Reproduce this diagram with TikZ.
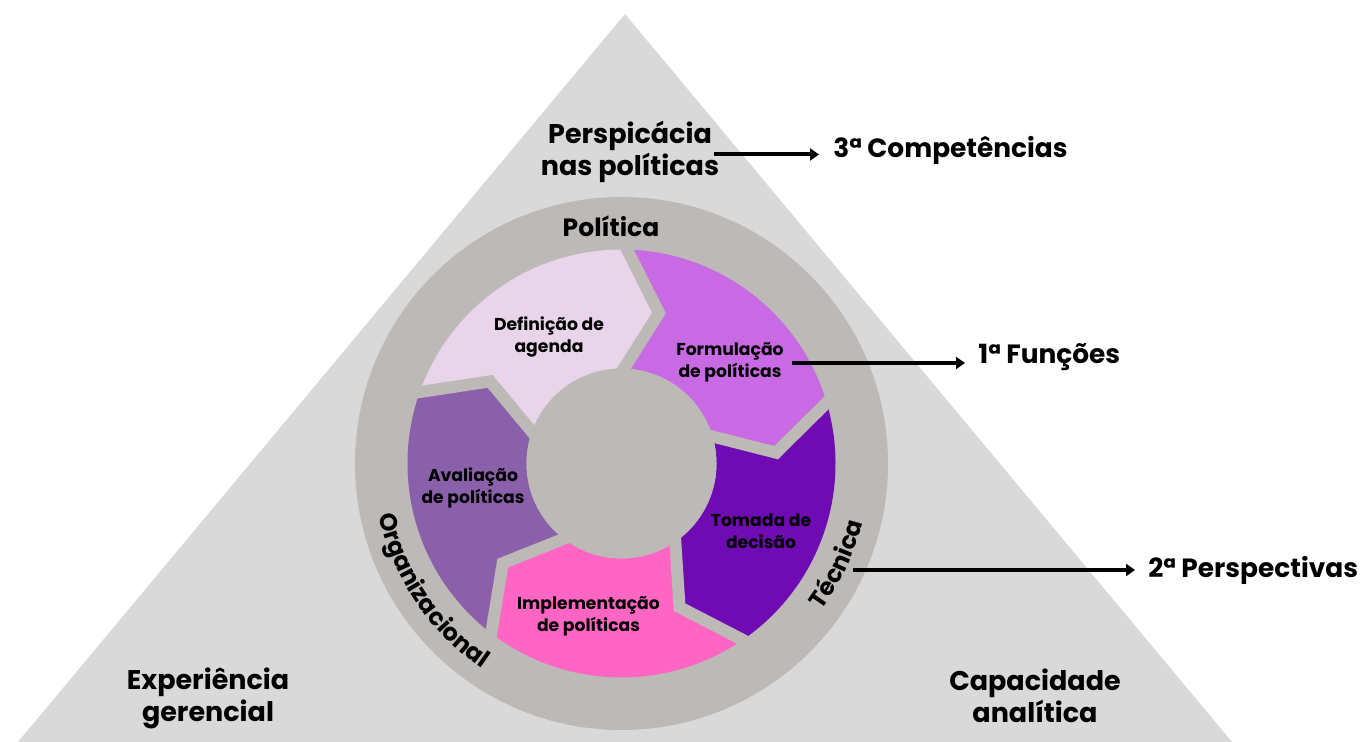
\documentclass[tikz,border=0pt]{standalone}
\usepackage{fontspec}
\setmainfont{Poppins}
\usetikzlibrary{arrows.meta,calc,decorations.text}
\definecolor{tri}{HTML}{D9D9D9}
\definecolor{ring}{HTML}{BCB9B6}
\definecolor{cdef}{HTML}{E8D5EA}
\definecolor{cform}{HTML}{C86AE3}
\definecolor{ctom}{HTML}{6F0BB3}
\definecolor{cimpl}{HTML}{FF66C4}
\definecolor{caval}{HTML}{8B60AA}
\newcommand{\chevseg}[3]{\fill[#3] (#1:214) arc[start angle=#1,end angle=#2,radius=214] -- (#2-12.5:155) -- (#2:95) arc[start angle=#2,end angle=#1,radius=95] -- (#1-12.5:155) -- cycle;}
\newcommand{\gapline}[1]{\draw[gapline] ($(#1:214)!-0.3!(#1-12.5:155)$) -- (#1-12.5:155) -- ($(#1:95)!-0.3!(#1-12.5:155)$);}
\tikzset{
  lbl/.style={font=\bfseries\fontsize{8.6}{11}\selectfont, align=center, inner sep=0pt, text=black},
  biglbl/.style={font=\bfseries\fontsize{13.5}{16}\selectfont, align=center, inner sep=0pt, text=black},
  sidelbl/.style={font=\bfseries\fontsize{13.2}{15}\selectfont, inner sep=0pt, anchor=base west, text=black},
  arr/.style={line width=2pt, draw=black, -{Triangle[length=4.5pt,width=6pt]}},
  gapline/.style={line width=6pt, draw=ring, line join=miter, line cap=butt},
}
\begin{document}
\begin{tikzpicture}[x=0.5pt,y=0.5pt]
\useasboundingbox (0,0) rectangle (1361,742);
\fill[white] (0,0) rectangle (1361,742);
% triangle
\fill[tri] (625,728) -- (18,0) -- (1232,0) -- cycle;
% ring
\fill[ring] (621.5,278.5) circle[radius=266.5];
\begin{scope}[shift={(621.5,278.5)}]
  \chevseg{160.5}{88.5}{cdef}
  \chevseg{88.5}{16.5}{cform}
  \chevseg{16.5}{-55.5}{ctom}
  \chevseg{-55.5}{-127.5}{cimpl}
  \chevseg{-127.5}{-199.5}{caval}
  \gapline{88.5}
  \gapline{16.5}
  \gapline{-55.5}
  \gapline{-127.5}
  \gapline{160.5}
  \fill[ring] (0,0) circle[radius=95];
  \path[decorate, decoration={text along path, text align=center,
      text={|\bfseries\fontsize{12}{12}\selectfont|Organizacional}}]
      (184:248) arc[start angle=184, end angle=244, radius=248];
  \path[decorate, decoration={text along path, text align=center,
      text={|\bfseries\fontsize{12}{12}\selectfont|Técnica}}]
      (-45:248) arc[start angle=-45, end angle=-5, radius=248];
\end{scope}
% labels
\node[lbl] (def) at (549,405) {Definição de\\agenda};
\node[lbl] (form) at (730,380) {Formulação\\de políticas};
\node[lbl] (aval) at (473,254.5) {Avaliação\\de políticas};
\node[lbl] (tom) at (761,210.5) {Tomada de\\decisão};
\node[lbl] (impl) at (588.5,126) {Implementação\\de políticas};
\node[font=\bfseries\fontsize{12.5}{15}\selectfont, inner sep=0pt, anchor=base] (pol) at (611,505.3) {Política};
\node[biglbl, font=\bfseries\fontsize{13.5}{14.3}\selectfont] (persp) at (630,590) {Perspicácia\\nas políticas};
\node[biglbl] (exp) at (208,44) {Experiência\\gerencial};
\node[biglbl] (cap) at (1035,46.5) {Capacidade\\analítica};
\node[sidelbl] (comp) at (833,584) {3ª Competências};
\node[sidelbl] (func) at (978,378) {1ª Funções};
\node[sidelbl] (pers) at (1148,164) {2ª Perspectivas};
% arrows
\coordinate (a1s) at (714,587.5);
\coordinate (a2s) at (792,379);
\coordinate (a3s) at (853,172);
\draw[arr, shorten >=7pt] (a1s) -- (a1s -| comp.west);
\draw[arr, shorten >=6.5pt] (a2s) -- (a2s -| func.west);
\draw[arr, shorten >=6.5pt] (a3s) -- (a3s -| pers.west);
\end{tikzpicture}
\end{document}
